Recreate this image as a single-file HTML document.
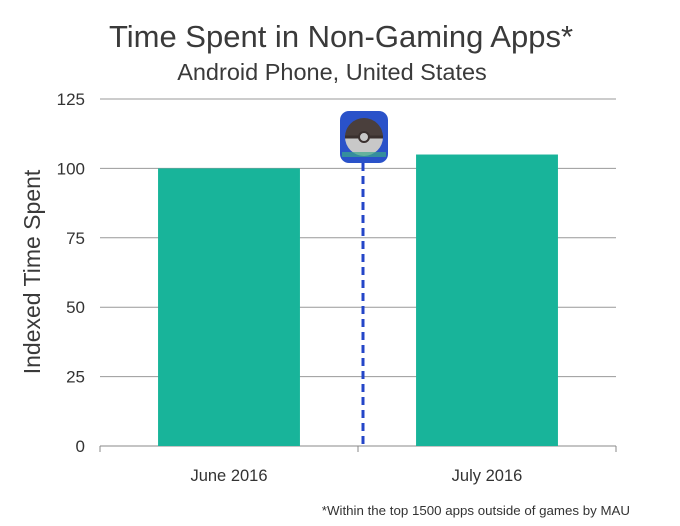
<!DOCTYPE html>
<html><head><meta charset="utf-8"><style>
body{margin:0;background:#fff;width:680px;height:521px;overflow:hidden;font-family:"Liberation Sans",sans-serif}
</style></head><body>
<svg width="680" height="521" id="c">
<text x="341" y="47" text-anchor="middle" font-size="31" fill="#3a3a3a">Time Spent in Non-Gaming Apps*</text>
<text x="332" y="80" text-anchor="middle" font-size="23.5" fill="#3a3a3a">Android Phone, United States</text>
<text transform="translate(40,272) rotate(-90)" text-anchor="middle" font-size="23" fill="#3a3a3a">Indexed Time Spent</text>
<text x="630" y="515" text-anchor="end" font-size="13.3" fill="#333">*Within the top 1500 apps outside of games by MAU</text>
<g id="grid"></g><g id="bars"></g><g id="xl"></g>
<line x1="363" y1="163" x2="363" y2="446" stroke="#2446c8" stroke-width="3" stroke-dasharray="8,5"/>
<g>
<rect x="340" y="111" width="48" height="52" rx="9" fill="#2a52c9"/>
<path d="M345,137 A19,19 0 0 1 383,137 Z" fill="#4a3f3c"/>
<path d="M345,137 A19,19 0 0 0 383,137 Z" fill="#c8c8c8"/>
<line x1="345" y1="137" x2="383" y2="137" stroke="#3a302e" stroke-width="3"/>
<circle cx="364" cy="137" r="5" fill="#c8c8c8" stroke="#3a302e" stroke-width="2"/>
<rect x="342" y="152" width="44" height="5" fill="#3aa88a" opacity="0.7"/>
</g>
</svg>
<script>
const categories=["June 2016","July 2016"];
const values=[100,105];
const ticks=[0,25,50,75,100,125];
const NS="http://www.w3.org/2000/svg";
const x0=100,x1=616,y0=446,y1=99;
const yS=v=>y0-(v/125)*(y0-y1);
const band=(x1-x0)/categories.length;
const xS=i=>x0+band*i;
function mk(t,a,p){const e=document.createElementNS(NS,t);for(const k in a)e.setAttribute(k,a[k]);p.appendChild(e);return e;}
const g=document.getElementById('grid');
ticks.forEach(t=>{
 const l=mk('line',{x1:x0,x2:x1,y1:yS(t),y2:yS(t),stroke:t===0?'#888':'#999','stroke-width':1},g);
 
 
 const tx=mk('text',{x:85,y:yS(t)+6,'text-anchor':'end','font-size':17,fill:'#333'},g);
 tx.textContent=t;
 
 
});
mk('line',{x1:x0,x2:x0,y1:y0,y2:y0+6,stroke:'#888'},g);
mk('line',{x1:x1,x2:x1,y1:y0,y2:y0+6,stroke:'#888'},g);
const b=document.getElementById('bars'),xl=document.getElementById('xl');
categories.forEach((c,i)=>{
 const bw=band*0.55,bx=xS(i)+(band-bw)/2;
 const r=mk('rect',{x:bx,y:yS(values[i]),width:bw,height:y0-yS(values[i]),fill:'#18b49a'},b);
 
 
 const tk=mk('line',{x1:xS(i+1),x2:xS(i+1),y1:y0,y2:y0+6,stroke:'#888'},xl);
 const t=mk('text',{x:xS(i)+band/2,y:481,'text-anchor':'middle','font-size':16.5,fill:'#333'},xl);
 t.textContent=c;
 
 
});
</script>
</body></html>
